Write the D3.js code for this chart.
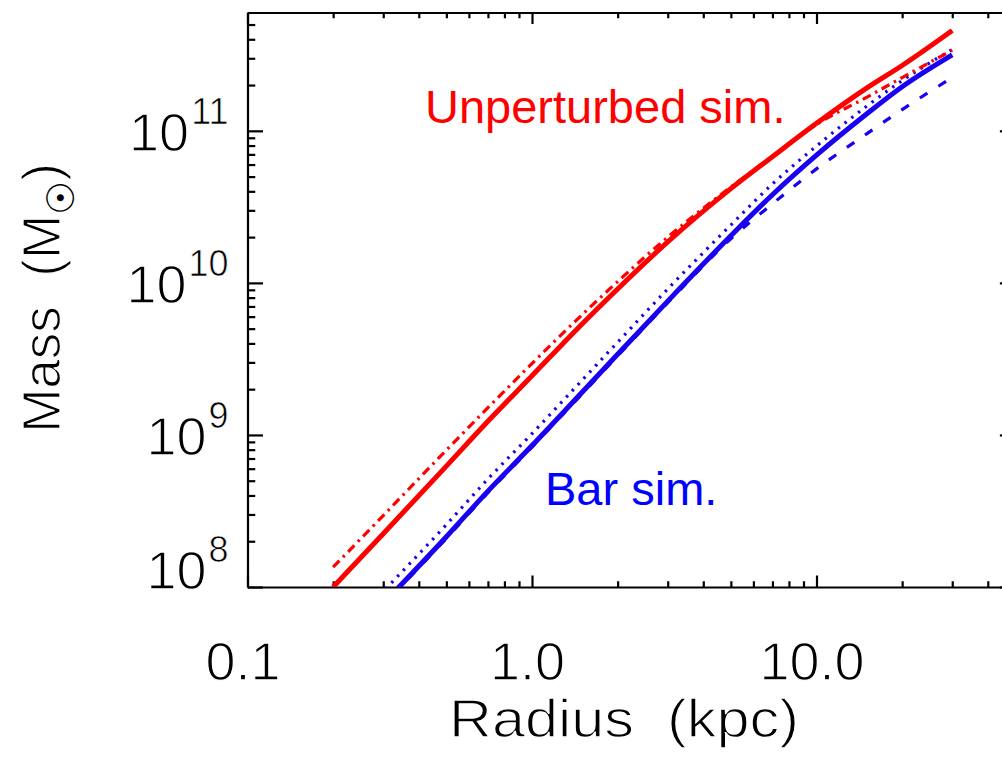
<!DOCTYPE html>
<html>
<head>
<meta charset="utf-8">
<script src="https://cdn.jsdelivr.net/npm/d3@7"></script>
<style>
  html, body { margin: 0; padding: 0; background: #fff; }
  svg { display: block; }
  text { font-family: "Liberation Sans", Arial, sans-serif; }
  .thin { stroke: #fff; stroke-width: 1.3px; }
  .thin .sup { stroke-width: 0.7px; }
  .thin .sun { stroke: none; }
</style>
</head>
<body>
<svg id="chart" width="1002" height="757"></svg>
<script>
// ---------------- data ----------------
const radius = [0.2, 0.3, 0.5, 0.7, 1, 1.5, 2, 3, 5, 7, 10, 15, 20, 30];           // kpc
const unperturbedSolid   = [1.00e8, 2.24e8, 6.24e8, 1.23e9, 2.45e9, 5.37e9, 9.12e9, 1.86e10, 4.17e10, 6.76e10, 1.12e11, 1.91e11, 2.69e11, 4.57e11];
const unperturbedDashDot = [1.35e8, 2.95e8, 7.94e8, 1.51e9, 2.95e9, 6.17e9, 1.02e10, 2.00e10, 4.27e10, 6.76e10, 1.10e11, 1.66e11, 2.24e11, 3.39e11];
const barSolid           = [3.47e7, 7.76e7, 2.14e8, 4.27e8, 8.51e8, 1.91e9, 3.39e9, 7.59e9, 2.04e10, 3.80e10, 6.92e10, 1.29e11, 1.95e11, 3.16e11];
const barDotted          = [4.17e7, 9.33e7, 2.57e8, 5.13e8, 1.02e9, 2.29e9, 4.07e9, 9.12e9, 2.40e10, 4.47e10, 7.94e10, 1.45e11, 2.14e11, 3.43e11];
const barDashed          = [3.39e7, 7.59e7, 2.09e8, 4.17e8, 8.32e8, 1.86e9, 3.31e9, 7.41e9, 1.95e10, 3.31e10, 5.62e10, 9.55e10, 1.38e11, 2.24e11];

const xDomain = [0.1, 50];
const yDomain = [1e8, 6e11];
const xMajorTicks = [0.1, 1, 10];
const xTickLabels = ["0.1", "1.0", "10.0"];
const yMajorTicks = [1e8, 1e9, 1e10, 1e11];
const yExponents = ["8", "9", "10", "11"];
const xTitle = "Radius\u00a0\u00a0(kpc)";
const yTitleMain = "Mass\u00a0\u00a0(M";
const yTitleSub = "\u2609";
const yTitleEnd = ")";
const labelUnperturbed = "Unperturbed sim.";
const labelBar = "Bar sim.";

// ---------------- layout ----------------
const plotLeft = 247.5, plotTop = 12.5, plotBottom = 587;
const decadeX = 284.5;
const plotRight = plotLeft + decadeX * Math.log10(xDomain[1] / xDomain[0]);

const svg = d3.select("#chart");
const x = d3.scaleLog().domain(xDomain).range([plotLeft, plotRight]);
const y = d3.scaleLog().domain(yDomain).range([plotBottom, plotTop]);

const RED = "#ff0000", BLUE = "#1a00f0";

// clip
svg.append("defs").append("clipPath").attr("id", "clip")
  .append("rect").attr("x", plotLeft).attr("y", plotTop)
  .attr("width", plotRight - plotLeft).attr("height", plotBottom - plotTop);

// minor tick values (2..9 times each power of ten inside the domain)
function minorTicks(domain) {
  const out = [];
  const lo = Math.floor(Math.log10(domain[0])), hi = Math.ceil(Math.log10(domain[1]));
  for (let e = lo; e <= hi; e++) for (let m = 2; m <= 9; m++) {
    const v = m * Math.pow(10, e);
    if (v > domain[0] && v < domain[1]) out.push(v);
  }
  return out;
}
const xMinor = minorTicks(xDomain), yMinor = minorTicks(yDomain);

const xTickLen = 11.5, yTickLen = 15.5;
const axisStyle = g => {
  g.selectAll(".domain").attr("stroke", "#000").attr("stroke-width", 2.2);
  g.selectAll(".tick line").attr("stroke", "#000").attr("stroke-width", 2.2);
};

// bottom axis (major with labels)
const gBottom = svg.append("g").attr("transform", `translate(0,${plotBottom})`)
  .call(d3.axisBottom(x).tickValues(xMajorTicks).tickSize(-xTickLen).tickSizeOuter(0)
    .tickFormat((d, i) => xTickLabels[i]))
  .call(axisStyle);
gBottom.selectAll(".tick text")
  .attr("class", "thin")
  .attr("y", 93).attr("dy", 0).attr("dx", -5)
  .attr("font-size", 54).attr("fill", "#000")
  .attr("font-family", "Liberation Sans, Arial, sans-serif");
svg.append("g").attr("transform", `translate(0,${plotBottom})`)
  .call(d3.axisBottom(x).tickValues(xMinor).tickSize(-xTickLen / 2).tickSizeOuter(0).tickFormat(""))
  .call(axisStyle).select(".domain").remove();

// top axis
svg.append("g").attr("transform", `translate(0,${plotTop})`)
  .call(d3.axisTop(x).tickValues(xMajorTicks).tickSize(-xTickLen).tickSizeOuter(0).tickFormat(""))
  .call(axisStyle);
svg.append("g").attr("transform", `translate(0,${plotTop})`)
  .call(d3.axisTop(x).tickValues(xMinor).tickSize(-xTickLen / 2).tickSizeOuter(0).tickFormat(""))
  .call(axisStyle).select(".domain").remove();

// left axis
const gLeft = svg.append("g").attr("transform", `translate(${plotLeft},0)`)
  .call(d3.axisLeft(y).tickValues(yMajorTicks).tickSize(-yTickLen).tickSizeOuter(0).tickPadding(19)
    .tickFormat(() => ""))
  .call(axisStyle);
gLeft.selectAll(".tick text").each(function (d, i) {
  const t = d3.select(this);
  t.attr("class", "thin").attr("dy", 0).attr("y", i === 0 ? 1 : 20).attr("fill", "#000")
   .attr("text-anchor", "end").attr("font-size", 54);
  t.append("tspan").text("10");
  t.append("tspan").attr("class", "sup").attr("font-size", 36).attr("dy", -27).attr("dx", 2).text(yExponents[i]);
});
svg.append("g").attr("transform", `translate(${plotLeft},0)`)
  .call(d3.axisLeft(y).tickValues(yMinor).tickSize(-yTickLen / 2).tickSizeOuter(0).tickFormat(""))
  .call(axisStyle).select(".domain").remove();

// right axis
svg.append("g").attr("transform", `translate(${plotRight},0)`)
  .call(d3.axisRight(y).tickValues(yMajorTicks).tickSize(-yTickLen).tickSizeOuter(0).tickFormat(""))
  .call(axisStyle);
svg.append("g").attr("transform", `translate(${plotRight},0)`)
  .call(d3.axisRight(y).tickValues(yMinor).tickSize(-yTickLen / 2).tickSizeOuter(0).tickFormat(""))
  .call(axisStyle).select(".domain").remove();

// ---------------- lines ----------------
const line = d3.line().x(d => x(d[0])).y(d => y(d[1])).curve(d3.curveMonotoneX);
const series = [
  { vals: barDashed, color: BLUE, width: 3.2, dash: "9,13" },
  { vals: barDotted, color: BLUE, width: 3.2, dash: "2.5,6" },
  { vals: barSolid, color: BLUE, width: 5, dash: null },
  { vals: unperturbedDashDot, color: RED, width: 3.2, dash: "9,5,2.5,5" },
  { vals: unperturbedSolid, color: RED, width: 5, dash: null }
];
const gLines = svg.append("g").attr("clip-path", "url(#clip)");
series.forEach(s => {
  gLines.append("path")
    .datum(radius.map((r, i) => [r, s.vals[i]]))
    .attr("d", line)
    .attr("fill", "none")
    .attr("stroke", s.color)
    .attr("stroke-width", s.width)
    .attr("stroke-dasharray", s.dash)
    .attr("stroke-linejoin", "round");
});

// ---------------- labels ----------------
svg.append("text").attr("x", 425).attr("y", 123).attr("font-size", 47)
  .attr("fill", RED).text(labelUnperturbed);
svg.append("text").attr("x", 545).attr("y", 505).attr("font-size", 47)
  .attr("fill", "#0000ff").text(labelBar);

// axis titles
svg.append("text").attr("class", "thin").attr("x", 449).attr("y", 737)
  .attr("font-size", 53).attr("fill", "#000")
  .attr("textLength", 350).attr("lengthAdjust", "spacingAndGlyphs").text(xTitle);

const yt = svg.append("text").attr("class", "thin")
  .attr("transform", "translate(60,298) rotate(-90)")
  .attr("text-anchor", "middle").attr("font-size", 53).attr("fill", "#000");
yt.append("tspan").text(yTitleMain);
yt.append("tspan").attr("class", "sun").attr("font-size", 38).attr("dy", 14)
  .attr("font-family", "DejaVu Sans").text(yTitleSub);
yt.append("tspan").attr("dy", -14).text(yTitleEnd);
</script>
</body>
</html>
